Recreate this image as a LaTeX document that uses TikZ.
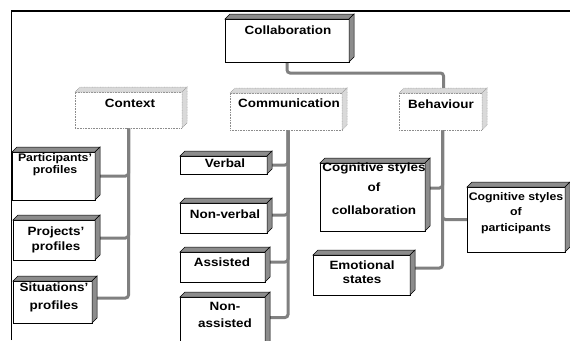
\documentclass[tikz,border=0pt]{standalone}
\usepackage{fontspec}
\setmainfont{Liberation Sans}[FakeStretch=1.12]
\usetikzlibrary{backgrounds}
\newcommand\cubefaces[2]{%
  \path[#1] (#2.north west) -- ++(5,-5) -- ([shift={(5,-5)}]#2.north east) -- (#2.north east) -- cycle;
  \path[#1] (#2.north east) -- ([shift={(5,-5)}]#2.north east) -- ([shift={(5,-5)}]#2.south east) -- (#2.south east) -- cycle;}
\tikzset{
  cube/.style={rectangle, draw=black, line width=0.7pt, fill=white, inner sep=0pt, outer sep=0pt},
  hdr/.style={rectangle, draw=black!45, dash pattern=on 0.8pt off 0.8pt, line width=0.6pt, fill=white, inner sep=0pt, outer sep=0pt},
  face/.style={draw=black, line width=0.5pt, fill=black!45},
  hface/.style={draw=black!40, dash pattern=on 0.8pt off 0.8pt, line width=0.5pt, fill=black!15},
  txt/.style={font=\fontsize{12}{13}\selectfont\bfseries, align=center, inner sep=0pt},
  smalltxt/.style={txt, font=\fontsize{11}{13}\selectfont\bfseries},
  conn/.style={draw=black!50, line width=3pt, rounded corners=3pt},
}
\begin{document}
\begin{tikzpicture}[x=1pt,y=-1pt]
\useasboundingbox (0,0) rectangle (570,340);
% frame
\draw[line width=1.3pt] (11.5,340) -- (11.5,11) -- (570,11);
% boxes (front faces)
\node[cube, minimum width=124pt, minimum height=43pt] (coll) at (287,40.5) {};
\node[hdr, minimum width=107pt, minimum height=36pt] (ctx) at (128.5,110) {};
\node[hdr, minimum width=112pt, minimum height=37pt] (comm) at (286,111.5) {};
\node[hdr, minimum width=83pt, minimum height=37pt] (beh) at (440.5,111.5) {};
\node[cube, minimum width=83pt, minimum height=48pt] (part) at (53.5,176) {};
\node[cube, minimum width=82pt, minimum height=40pt] (proj) at (54,240) {};
\node[cube, minimum width=79pt, minimum height=42pt] (sit) at (52.5,302) {};
\node[cube, minimum width=87pt, minimum height=18pt] (verbal) at (223.5,165) {};
\node[cube, minimum width=87pt, minimum height=30pt] (nonverbal) at (223.5,218) {};
\node[cube, minimum width=85pt, minimum height=30pt] (assisted) at (222.5,267) {};
\node[cube, minimum width=85pt, minimum height=53pt] (nonass) at (222.5,323.5) {};
\node[cube, minimum width=105pt, minimum height=68pt] (cogcol) at (372.5,197) {};
\node[cube, minimum width=98pt, minimum height=65pt] (cogpart) at (516,219.5) {};
\node[cube, minimum width=97pt, minimum height=40pt] (emo) at (361.5,275) {};
% 3D faces
\foreach \n in {coll,part,proj,sit,verbal,nonverbal,assisted,nonass,cogcol,cogpart,emo} {\cubefaces{face}{\n}}
\foreach \n in {ctx,comm,beh} {\cubefaces{hface}{\n}}
% connectors
\begin{pgfonlayer}{background}
\draw[conn] (coll.south) -- ++(0,11) -| ([xshift=3pt]beh.north);
\draw[conn] (ctx.south) |- (part.east);
\draw[conn] (ctx.south) |- ([yshift=2pt]proj.east);
\draw[conn] (ctx.south) |- ([yshift=4pt]sit.east);
\draw[conn] ([xshift=2pt]comm.south) |- (verbal.east);
\draw[conn] ([xshift=2pt]comm.south) |- ([yshift=3pt]nonverbal.east);
\draw[conn] ([xshift=2pt]comm.south) |- ([yshift=5pt]assisted.east);
\draw[conn] ([xshift=2pt]comm.south) |- ([yshift=6pt]nonass.east);
\draw[conn] ([xshift=2pt]beh.south) |- ([yshift=9pt]cogcol.east);
\draw[conn] ([xshift=2pt]beh.south) |- (cogpart.west);
\draw[conn] ([xshift=2pt]beh.south) |- ([yshift=7pt]emo.east);
\end{pgfonlayer}
% texts
\node[txt] (t-coll) at (288,30) {Collaboration};
\node[txt] (t-ctx) at (130,103) {Context};
\node[txt] (t-comm) at (289,103) {Communication};
\node[txt] (t-beh) at (441,104) {Behaviour};
\node[smalltxt] (t-part) at (55,165) {Participants'\\[-1pt]profiles};
\node[txt] (t-proj) at (56,240) {Projects'\\[2pt]profiles};
\node[txt] (t-sit) at (54,297) {Situations'\\[5pt]profiles};
\node[txt] (t-verbal) at (225,163) {Verbal};
\node[txt] (t-nonverbal) at (225,214) {Non-verbal};
\node[txt] (t-assisted) at (222,262) {Assisted};
\node[txt] (t-nonass) at (225,315) {Non-\\[4pt]assisted};
\node[txt] (t-cogcol) at (374,189) {Cognitive styles\\[7pt]of\\[10pt]collaboration};
\node[smalltxt] (t-cogpart) at (516,213) {Cognitive styles\\[2pt]of\\[3pt]participants};
\node[txt] (t-emo) at (362,272) {Emotional\\[1pt]states};
\end{tikzpicture}
\end{document}
